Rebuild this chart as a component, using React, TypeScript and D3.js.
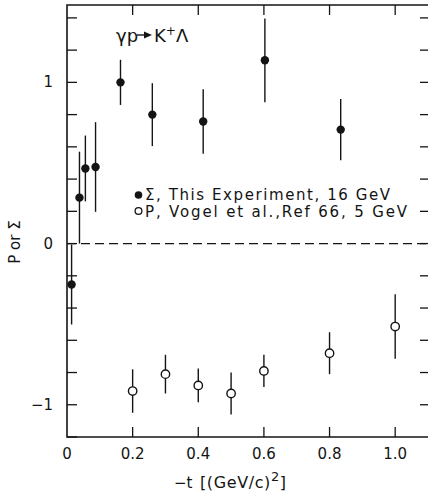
import React from "react";
import * as d3 from "d3";

// Sigma, this experiment, 16 GeV (filled)
const sigmaT = [0.014, 0.038, 0.056, 0.087, 0.163, 0.26, 0.415, 0.603, 0.834];
const sigmaV = [-0.254, 0.285, 0.466, 0.475, 1.0, 0.8, 0.757, 1.137, 0.707];
const sigmaErr = [0.248, 0.285, 0.204, 0.278, 0.14, 0.195, 0.2, 0.26, 0.19];

// P, Vogel et al., Ref 66, 5 GeV (open)
const polT = [0.2, 0.3, 0.4, 0.5, 0.6, 0.8, 1.0];
const polV = [-0.915, -0.81, -0.88, -0.93, -0.79, -0.68, -0.515];
const polErr = [0.135, 0.12, 0.105, 0.13, 0.1, 0.13, 0.2];

const xTickLabels = ["0", "0.2", "0.4", "0.6", "0.8", "1.0"];
const xTicks = [0, 0.2, 0.4, 0.6, 0.8, 1.0];
const yTickLabels = ["1", "0", "\u22121"];
const yLabelTicks = [1, 0, -1];

const W = 428;
const H = 504;
const left = 67;
const right = 428;
const top = 5;
const bottom = 437;
const ink = "#141414";
const font = "'DejaVu Sans', sans-serif";

export default function App() {
  const x = d3.scaleLinear().domain([0, 1.1]).range([left, right]);
  const y = d3.scaleLinear().domain([-1.2, 1.48]).range([bottom, top]);
  const minor = d3.range(-12, 15, 2).map(d => d / 10);

  const sigma = sigmaT.map((t, i) => ({ t, v: sigmaV[i], e: sigmaErr[i] }));
  const pol = polT.map((t, i) => ({ t, v: polV[i], e: polErr[i] }));

  return (
    <svg
      width={W}
      height={H}
      style={{ position: "absolute", left: 0, top: 0, background: "#fff" }}
    >
      {/* frame */}
      <path
        d={`M${right},${top}H${left}V${bottom}H${right}`}
        fill="none"
        stroke={ink}
        strokeWidth={1.6}
      />
      {/* left ticks */}
      {minor.map(v => (
        <line key={"l" + v} x1={left} x2={left + 10} y1={y(v)} y2={y(v)} stroke={ink} strokeWidth={1.3} />
      ))}
      {/* right ticks */}
      {minor.filter(v => v > -1.1).map(v => (
        <line key={"r" + v} x1={right - 8} x2={right} y1={y(v)} y2={y(v)} stroke={ink} strokeWidth={1.3} />
      ))}
      {/* top / bottom ticks */}
      {xTicks.slice(1).map(t => (
        <g key={"t" + t}>
          <line x1={x(t)} x2={x(t)} y1={top} y2={top + 10} stroke={ink} strokeWidth={1.3} />
          <line x1={x(t)} x2={x(t)} y1={bottom} y2={bottom - 10} stroke={ink} strokeWidth={1.3} />
        </g>
      ))}
      {/* zero line */}
      <line
        x1={left}
        x2={right}
        y1={y(0)}
        y2={y(0)}
        stroke={ink}
        strokeWidth={1.2}
        strokeDasharray="9 5"
      />

      {/* x tick labels */}
      {xTicks.map((t, i) => (
        <text key={"xl" + t} x={x(t)} y={459} textAnchor="middle" fontFamily={font} fontSize={15} fill={ink}>
          {xTickLabels[i]}
        </text>
      ))}
      {/* y tick labels */}
      {yLabelTicks.map((v, i) => (
        <text key={"yl" + v} x={53} y={y(v) + 5} textAnchor="end" fontFamily={font} fontSize={15} fill={ink}>
          {yTickLabels[i]}
        </text>
      ))}

      {/* axis titles */}
      <text x={174} y={488} fontFamily={font} fontSize={15} fill={ink}>
        {"\u2212t"}
      </text>
      <text x={200} y={488} fontFamily={font} fontSize={16} fill={ink} letterSpacing={0.6}>
        {"[(GeV/c)"}
        <tspan dy={-7} fontSize={13}>2</tspan>
        <tspan dy={7}>]</tspan>
      </text>
      <text
        transform={`translate(20,242) rotate(-90)`}
        textAnchor="middle"
        fontFamily={font}
        fontSize={15}
        fill={ink}
      >
        P or Σ
      </text>

      {/* reaction label */}
      <text x={116} y={42} fontFamily={font} fontSize={18} fill={ink}>γp</text>
      <line x1={137} x2={146} y1={35} y2={35} stroke={ink} strokeWidth={1.4} />
      <path d="M144,31.5L152,35L144,38.5Z" fill={ink} />
      <text x={154} y={42} fontFamily={font} fontSize={18} fill={ink}>
        K
        <tspan dy={-7} fontSize={12}>+</tspan>
        <tspan dy={7}>Λ</tspan>
      </text>

      {/* legend */}
      <circle cx={138.5} cy={195} r={3.8} fill={ink} />
      <text x={145} y={200} fontFamily={font} fontSize={15} fill={ink} textLength={245} lengthAdjust="spacing">
        Σ, This Experiment, 16 GeV
      </text>
      <circle cx={138.5} cy={211} r={3.4} fill="#fff" stroke={ink} strokeWidth={1.3} />
      <text x={145} y={217} fontFamily={font} fontSize={15} fill={ink} textLength={262} lengthAdjust="spacing">
        P, Vogel  et al.,Ref 66, 5 GeV
      </text>

      {/* Sigma points */}
      {sigma.map(d => (
        <g key={"s" + d.t}>
          <line x1={x(d.t)} x2={x(d.t)} y1={y(d.v + d.e)} y2={y(d.v - d.e)} stroke={ink} strokeWidth={1.4} />
          <circle cx={x(d.t)} cy={y(d.v)} r={4.2} fill={ink} />
        </g>
      ))}
      {/* P points */}
      {pol.map(d => (
        <g key={"p" + d.t}>
          <line x1={x(d.t)} x2={x(d.t)} y1={y(d.v + d.e)} y2={y(d.v - d.e)} stroke={ink} strokeWidth={1.4} />
          <circle cx={x(d.t)} cy={y(d.v)} r={4.2} fill="#fff" stroke={ink} strokeWidth={1.4} />
        </g>
      ))}
    </svg>
  );
}
